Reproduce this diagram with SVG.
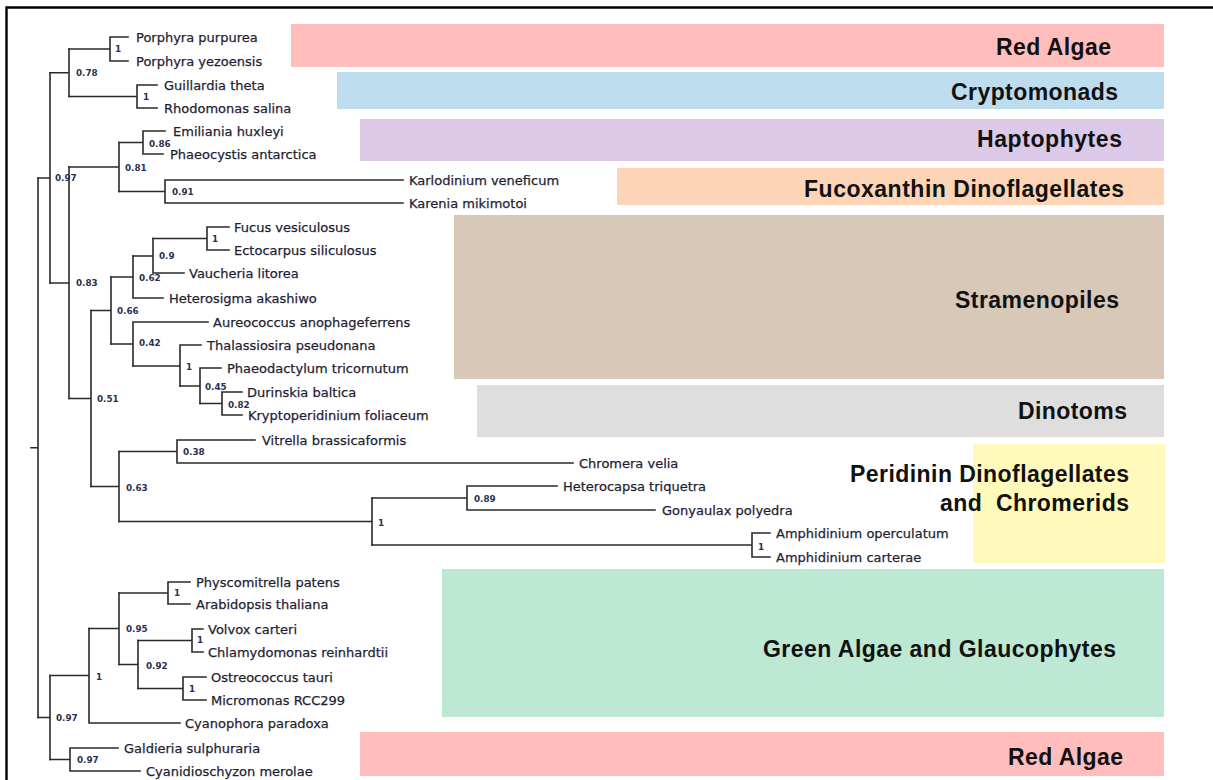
<svg xmlns="http://www.w3.org/2000/svg" width="1213" height="780" viewBox="0 0 1213 780">
<style>
.br{stroke:#2a2a2a;stroke-width:1.6;fill:none;stroke-linecap:square}
.lf{font-family:"DejaVu Sans","Liberation Sans",sans-serif;font-size:13px;fill:#1e1e33;stroke:#1e1e33;stroke-width:0.25}
.bs{font-family:"DejaVu Sans","Liberation Sans",sans-serif;font-weight:bold;font-size:8.8px;fill:#2c3050}
.cl{font-family:"Liberation Sans",Arial,sans-serif;font-weight:bold;font-size:23px;fill:#111;text-anchor:end}
.frame{stroke:#000;stroke-width:2.4;fill:none}
</style>
<rect width="1213" height="780" fill="#fff"/>
<path class="frame" d="M6.5 780 V7.5 H1213"/>

<!-- clade boxes -->
<g id="clade-red-top"><rect x="291" y="24" width="873" height="43" fill="#ffbdbb"/><text class="cl" x="1111" y="55" textLength="115">Red Algae</text></g>
<g id="clade-crypto"><rect x="337" y="72" width="827" height="37" fill="#bddcee"/><text class="cl" x="1118" y="100" textLength="167">Cryptomonads</text></g>
<g id="clade-hapto"><rect x="360" y="119" width="804" height="42" fill="#dbc9e7"/><text class="cl" x="1122" y="147" textLength="145">Haptophytes</text></g>
<g id="clade-fuco"><rect x="617" y="168" width="547" height="37" fill="#fdd4b5"/><text class="cl" x="1124" y="197" textLength="320">Fucoxanthin Dinoflagellates</text></g>
<g id="clade-strameno"><rect x="454" y="215" width="710" height="164" fill="#d8c8b8"/><text class="cl" x="1119" y="308" textLength="164">Stramenopiles</text></g>
<g id="clade-dinotoms"><rect x="477" y="385" width="687" height="52" fill="#dedede"/><text class="cl" x="1127" y="419" textLength="109">Dinotoms</text></g>
<g id="clade-peridinin"><rect x="973" y="444" width="192" height="119" fill="#fff9bb"/><text class="cl" x="1129" y="482" textLength="279">Peridinin Dinoflagellates</text><text class="cl" x="1129" y="511" textLength="189" style="white-space:pre">and  Chromerids</text></g>
<g id="clade-green"><rect x="442" y="569" width="722" height="148" fill="#bde8d3"/><text class="cl" x="1116" y="657" textLength="353">Green Algae and Glaucophytes</text></g>
<g id="clade-red-bottom"><rect x="360" y="732" width="804" height="44" fill="#ffbdbb"/><text class="cl" x="1123" y="765" textLength="115">Red Algae</text></g>

<!-- connectors (tree branches) -->
<g id="connectors" class="br">
<path d="M31 447.75 H38 M38 178 V717.5"/>
<path d="M38 178 H50 M50 72.75 V283"/>
<path d="M50 72.75 H69 M69 49 V96.5"/>
<path d="M69 49 H110 M110 37 V61 M110 37 H128 M110 61 H128"/>
<path d="M69 96.5 H137 M137 85 V108 M137 85 H157 M137 108 H157"/>
<path d="M50 283 H69 M69 167 V398.5"/>
<path d="M69 167 H119 M119 142.5 V191.5"/>
<path d="M119 142.5 H143 M143 131 V154 M143 131 H165 M143 154 H163"/>
<path d="M119 191.5 H165 M165 180 V203 M165 180 H403 M165 203 H403"/>
<path d="M69 398.5 H91 M91 310.5 V486.5"/>
<path d="M91 310.5 H111 M111 277 V344"/>
<path d="M111 277 H133 M133 256 V298 M133 298 H163"/>
<path d="M133 256 H153 M153 238.5 V273 M153 273 H184"/>
<path d="M153 238.5 H207 M207 227 V250 M207 227 H229 M207 250 H229"/>
<path d="M111 344 H133 M133 322 V366 M133 322 H208"/>
<path d="M133 366 H180 M180 345 V386 M180 345 H201"/>
<path d="M180 386 H200 M200 368 V403.5 M200 368 H221"/>
<path d="M200 403.5 H222 M222 392 V415 M222 392 H242 M222 415 H242"/>
<path d="M91 486.5 H119 M119 451.5 V521.5"/>
<path d="M119 451.5 H177 M177 440 V463 M177 440 H255 M177 463 H573"/>
<path d="M119 521.5 H372 M372 498 V545"/>
<path d="M372 498 H467 M467 486 V510 M467 486 H557 M467 510 H655"/>
<path d="M372 545 H752 M752 533 V557 M752 533 H770 M752 557 H770"/>
<path d="M38 717.5 H50 M50 675.5 V759.5"/>
<path d="M50 675.5 H89 M89 628.5 V723 M89 723 H180"/>
<path d="M89 628.5 H119 M119 593 V664.5"/>
<path d="M119 593 H168 M168 582 V604 M168 582 H190 M168 604 H190"/>
<path d="M119 664.5 H138 M138 640.5 V688.5"/>
<path d="M138 640.5 H192 M192 629 V652 M192 629 H203 M192 652 H203"/>
<path d="M138 688.5 H183 M183 677 V700 M183 677 H206 M183 700 H206"/>
<path d="M50 759.5 H70 M70 748 V771 M70 748 H118 M70 771 H140"/>
</g>

<!-- internal nodes: support values -->
<g id="n-root-a"><text class="bs" x="55" y="181">0.97</text></g>
<g id="n-b"><text class="bs" x="76" y="76">0.78</text></g>
<g id="n-c"><text class="bs" x="115" y="52">1</text></g>
<g id="n-d"><text class="bs" x="143" y="100">1</text></g>
<g id="n-e"><text class="bs" x="76" y="286">0.83</text></g>
<g id="n-f"><text class="bs" x="125" y="171">0.81</text></g>
<g id="n-g"><text class="bs" x="149" y="147">0.86</text></g>
<g id="n-h"><text class="bs" x="172" y="195">0.91</text></g>
<g id="n-i"><text class="bs" x="97" y="402">0.51</text></g>
<g id="n-j"><text class="bs" x="117" y="314">0.66</text></g>
<g id="n-k"><text class="bs" x="139" y="281">0.62</text></g>
<g id="n-l"><text class="bs" x="159" y="259">0.9</text></g>
<g id="n-m"><text class="bs" x="212" y="242">1</text></g>
<g id="n-n"><text class="bs" x="139" y="346">0.42</text></g>
<g id="n-o"><text class="bs" x="186" y="370">1</text></g>
<g id="n-p"><text class="bs" x="205" y="390">0.45</text></g>
<g id="n-q"><text class="bs" x="228" y="408">0.82</text></g>
<g id="n-r"><text class="bs" x="126" y="491">0.63</text></g>
<g id="n-s"><text class="bs" x="183" y="455">0.38</text></g>
<g id="n-t"><text class="bs" x="378" y="526">1</text></g>
<g id="n-u"><text class="bs" x="474" y="502">0.89</text></g>
<g id="n-v"><text class="bs" x="758" y="550">1</text></g>
<g id="n-w"><text class="bs" x="56" y="721">0.97</text></g>
<g id="n-x"><text class="bs" x="96" y="680">1</text></g>
<g id="n-y"><text class="bs" x="126" y="632">0.95</text></g>
<g id="n-z"><text class="bs" x="174" y="596">1</text></g>
<g id="n-aa"><text class="bs" x="146" y="669">0.92</text></g>
<g id="n-ab"><text class="bs" x="197" y="643">1</text></g>
<g id="n-ac"><text class="bs" x="189" y="692">1</text></g>
<g id="n-ad"><text class="bs" x="77" y="763">0.97</text></g>

<!-- leaves -->
<g id="leaf-porphyra-purpurea"><text class="lf" x="136" y="42">Porphyra purpurea</text></g>
<g id="leaf-porphyra-yezoensis"><text class="lf" x="136" y="66">Porphyra yezoensis</text></g>
<g id="leaf-guillardia"><text class="lf" x="164" y="90">Guillardia theta</text></g>
<g id="leaf-rhodomonas"><text class="lf" x="164" y="113">Rhodomonas salina</text></g>
<g id="leaf-emiliania"><text class="lf" x="173" y="136">Emiliania huxleyi</text></g>
<g id="leaf-phaeocystis"><text class="lf" x="170" y="159">Phaeocystis antarctica</text></g>
<g id="leaf-karlodinium"><text class="lf" x="409" y="185">Karlodinium veneficum</text></g>
<g id="leaf-karenia"><text class="lf" x="409" y="208">Karenia mikimotoi</text></g>
<g id="leaf-fucus"><text class="lf" x="234" y="232">Fucus vesiculosus</text></g>
<g id="leaf-ectocarpus"><text class="lf" x="234" y="255">Ectocarpus siliculosus</text></g>
<g id="leaf-vaucheria"><text class="lf" x="189" y="278">Vaucheria litorea</text></g>
<g id="leaf-heterosigma"><text class="lf" x="169" y="303">Heterosigma akashiwo</text></g>
<g id="leaf-aureococcus"><text class="lf" x="213" y="327">Aureococcus anophageferrens</text></g>
<g id="leaf-thalassiosira"><text class="lf" x="207" y="350">Thalassiosira pseudonana</text></g>
<g id="leaf-phaeodactylum"><text class="lf" x="227" y="373">Phaeodactylum tricornutum</text></g>
<g id="leaf-durinskia"><text class="lf" x="247" y="397">Durinskia baltica</text></g>
<g id="leaf-kryptoperidinium"><text class="lf" x="248" y="420">Kryptoperidinium foliaceum</text></g>
<g id="leaf-vitrella"><text class="lf" x="262" y="445">Vitrella brassicaformis</text></g>
<g id="leaf-chromera"><text class="lf" x="579" y="468">Chromera velia</text></g>
<g id="leaf-heterocapsa"><text class="lf" x="563" y="491">Heterocapsa triquetra</text></g>
<g id="leaf-gonyaulax"><text class="lf" x="662" y="515">Gonyaulax polyedra</text></g>
<g id="leaf-amph-operculatum"><text class="lf" x="776" y="538">Amphidinium operculatum</text></g>
<g id="leaf-amph-carterae"><text class="lf" x="776" y="562">Amphidinium carterae</text></g>
<g id="leaf-physcomitrella"><text class="lf" x="196" y="587">Physcomitrella patens</text></g>
<g id="leaf-arabidopsis"><text class="lf" x="196" y="609">Arabidopsis thaliana</text></g>
<g id="leaf-volvox"><text class="lf" x="208" y="634">Volvox carteri</text></g>
<g id="leaf-chlamydomonas"><text class="lf" x="208" y="657">Chlamydomonas reinhardtii</text></g>
<g id="leaf-ostreococcus"><text class="lf" x="211" y="682">Ostreococcus tauri</text></g>
<g id="leaf-micromonas"><text class="lf" x="211" y="705">Micromonas RCC299</text></g>
<g id="leaf-cyanophora"><text class="lf" x="185" y="728">Cyanophora paradoxa</text></g>
<g id="leaf-galdieria"><text class="lf" x="124" y="753">Galdieria sulphuraria</text></g>
<g id="leaf-cyanidioschyzon"><text class="lf" x="146" y="776">Cyanidioschyzon merolae</text></g>
</svg>
